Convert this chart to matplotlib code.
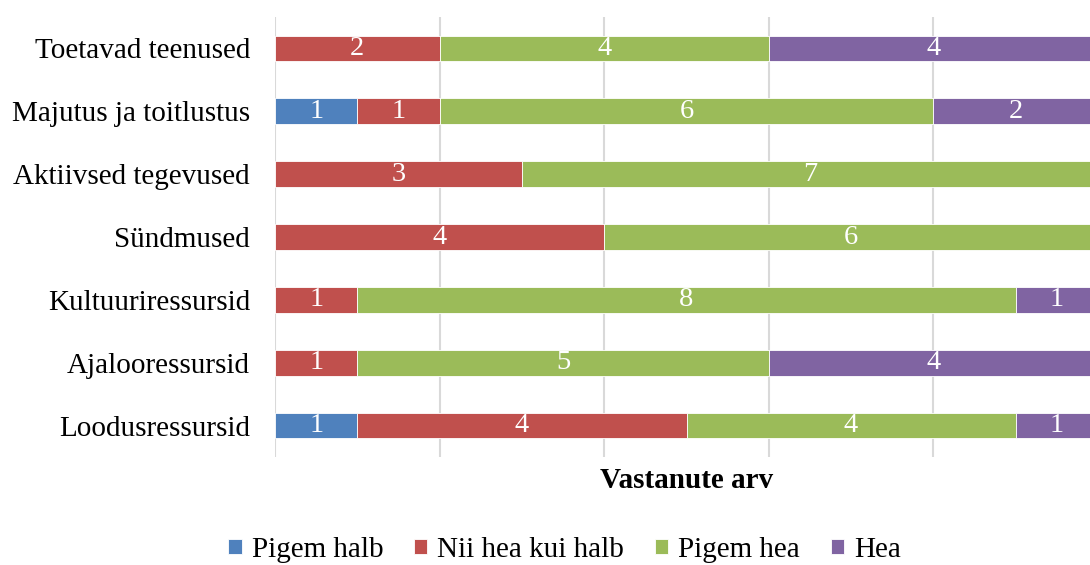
import numpy as np
import matplotlib.pyplot as plt

# andmed (alt üles)
kategooriad = ['Loodusressursid', 'Ajalooressursid', 'Kultuuriressursid', 'Sündmused',
               'Aktiivsed tegevused', 'Majutus ja toitlustus', 'Toetavad teenused']
pigem_halb = [1, 0, 0, 0, 0, 1, 0]
nii_hea_kui_halb = [4, 1, 1, 4, 3, 1, 2]
pigem_hea = [4, 5, 8, 6, 7, 6, 4]
hea = [1, 4, 1, 0, 0, 2, 4]

seeriad = ['Pigem halb', 'Nii hea kui halb', 'Pigem hea', 'Hea']
varvid = ['#4F81BD', '#C0504D', '#9BBB59', '#8064A2']

plt.rcParams['font.family'] = ['Liberation Serif', 'DejaVu Serif']

fig = plt.figure(figsize=(10.9, 5.65), dpi=100)
ax = fig.add_axes([275 / 1090, 108 / 565, 823 / 1090, 440 / 565])

y = np.arange(len(kategooriad))
vasak = np.zeros(len(kategooriad))
for nimi, vaartused, varv in zip(seeriad, [pigem_halb, nii_hea_kui_halb, pigem_hea, hea], varvid):
    v = np.array(vaartused, dtype=float)
    tulbad = ax.barh(y, v, left=vasak, height=0.41, color=varv, label=nimi,
                     edgecolor='white', linewidth=0.6, zorder=3)
    ax.bar_label(tulbad, labels=[str(int(a)) if a > 0 else '' for a in v],
                 label_type='center', color='white', fontsize=20.5)
    vasak += v

ax.set_xlim(0, 10)
ax.set_ylim(-0.5, 6.5)
ax.set_xticks([0, 2, 4, 6, 8, 10])
ax.set_xticklabels([])
ax.set_yticks(y)
ax.set_yticklabels(kategooriad, fontsize=21)
ax.tick_params(axis='both', length=0)
ax.tick_params(axis='y', pad=18)
ax.grid(axis='x', color='#D9D9D9', linewidth=1.5, zorder=0)
for s in ax.spines.values():
    s.set_visible(False)

ax.set_xlabel('Vastanute arv', fontsize=21, fontweight='bold', labelpad=4)

fig.legend(loc='center', bbox_to_anchor=(0.518, 0.027), ncol=4, frameon=False,
           fontsize=21, handlelength=0.45, handleheight=0.45, handletextpad=0.35,
           columnspacing=1.05, borderaxespad=0)

fig.savefig('out.png', dpi=100)
